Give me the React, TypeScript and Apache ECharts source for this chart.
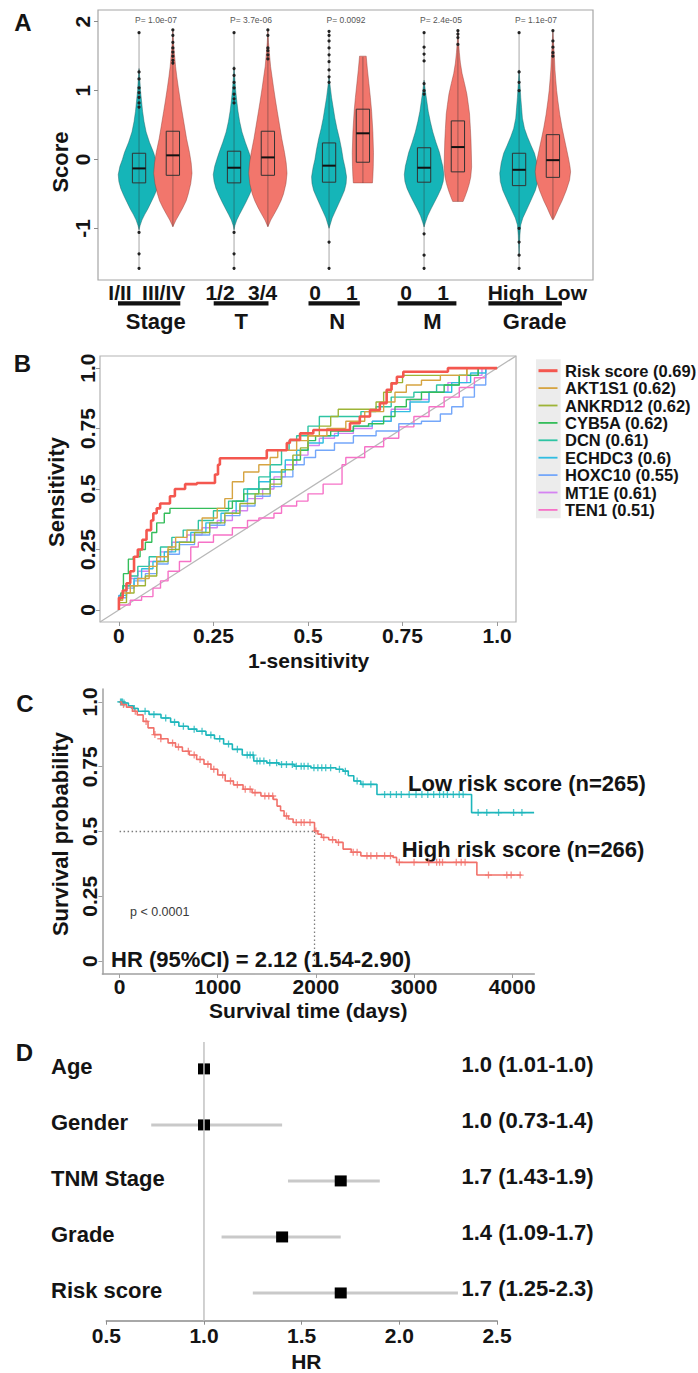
import React, { useEffect, useRef } from "react";
import * as echarts from "echarts";

const FONT = '"Liberation Sans", Arial, Helvetica, sans-serif';
const INK = "#141414";
const TEAL = "#15B5B8";
const RED = "#F2766C";

// ---------------- Panel A : violins ----------------
const GROUP_NAMES = ["Stage", "T", "N", "M", "Grade"];
const SUB_LABELS = ["I/II", "III/IV", "1/2", "3/4", "0", "1", "0", "1", "High", "Low"];
const P_VALUES = ["P= 1.0e-07", "P= 3.7e-06", "P= 0.0092", "P= 2.4e-05", "P= 1.1e-07"];
const VIOLIN_GROUP = [1, 1, 2, 2, 3, 3, 4, 4, 5, 5];
const VIOLIN_SIDE = [-1, 1, -1, 1, -1, 1, -1, 1, -1, 1];
// [score, relative density]
const VIOLIN_PROFILES: number[][][] = [
  [[1.32, 0], [1.2, 0.03], [1.0, 0.07], [0.85, 0.12], [0.7, 0.17], [0.55, 0.24], [0.4, 0.34], [0.25, 0.5], [0.1, 0.7], [0.0, 0.8], [-0.1, 0.92], [-0.22, 1.0], [-0.32, 0.97], [-0.42, 0.88], [-0.52, 0.74], [-0.62, 0.58], [-0.72, 0.42], [-0.8, 0.27], [-0.88, 0.14], [-0.96, 0.05], [-1.02, 0]],
  [[1.88, 0], [1.7, 0.03], [1.55, 0.07], [1.35, 0.13], [1.2, 0.19], [1.05, 0.26], [0.85, 0.36], [0.7, 0.44], [0.5, 0.55], [0.3, 0.66], [0.1, 0.8], [-0.05, 0.88], [-0.2, 0.92], [-0.35, 0.86], [-0.5, 0.74], [-0.6, 0.64], [-0.7, 0.48], [-0.8, 0.3], [-0.88, 0.15], [-0.95, 0.04], [-0.98, 0]],
  [[1.35, 0], [1.2, 0.03], [1.0, 0.08], [0.85, 0.13], [0.7, 0.19], [0.55, 0.27], [0.4, 0.38], [0.25, 0.54], [0.1, 0.72], [0.0, 0.83], [-0.1, 0.93], [-0.22, 1.0], [-0.32, 0.96], [-0.42, 0.87], [-0.52, 0.73], [-0.62, 0.57], [-0.72, 0.4], [-0.8, 0.26], [-0.88, 0.13], [-0.96, 0.04], [-1.02, 0]],
  [[1.88, 0], [1.7, 0.03], [1.55, 0.07], [1.35, 0.13], [1.2, 0.2], [1.05, 0.27], [0.85, 0.37], [0.7, 0.45], [0.5, 0.56], [0.3, 0.67], [0.1, 0.8], [-0.05, 0.88], [-0.2, 0.92], [-0.35, 0.87], [-0.5, 0.75], [-0.6, 0.63], [-0.7, 0.47], [-0.8, 0.29], [-0.88, 0.14], [-0.95, 0.04], [-0.98, 0]],
  [[1.2, 0], [1.05, 0.06], [0.9, 0.12], [0.75, 0.2], [0.6, 0.28], [0.45, 0.38], [0.3, 0.5], [0.15, 0.6], [0.0, 0.68], [-0.12, 0.77], [-0.25, 0.84], [-0.35, 0.82], [-0.45, 0.74], [-0.55, 0.6], [-0.65, 0.45], [-0.75, 0.3], [-0.85, 0.15], [-0.95, 0.05], [-1.0, 0]],
  [[1.5, 0.16], [1.3, 0.22], [1.1, 0.29], [0.9, 0.36], [0.7, 0.42], [0.4, 0.48], [0.1, 0.51], [-0.1, 0.5], [-0.25, 0.48], [-0.34, 0.46]],
  [[1.15, 0], [1.0, 0.06], [0.85, 0.13], [0.7, 0.2], [0.55, 0.3], [0.4, 0.42], [0.25, 0.57], [0.1, 0.74], [0.0, 0.82], [-0.1, 0.9], [-0.22, 0.95], [-0.32, 0.92], [-0.42, 0.82], [-0.52, 0.67], [-0.62, 0.5], [-0.72, 0.33], [-0.82, 0.17], [-0.92, 0.06], [-0.98, 0]],
  [[1.87, 0], [1.7, 0.03], [1.55, 0.07], [1.4, 0.12], [1.25, 0.2], [1.1, 0.32], [0.95, 0.43], [0.8, 0.5], [0.66, 0.56], [0.45, 0.6], [0.27, 0.63], [0.05, 0.65], [-0.11, 0.66], [-0.25, 0.62], [-0.35, 0.55], [-0.45, 0.45], [-0.55, 0.33], [-0.61, 0.25]],
  [[1.3, 0], [1.1, 0.04], [0.9, 0.08], [0.75, 0.12], [0.6, 0.16], [0.45, 0.26], [0.33, 0.4], [0.2, 0.58], [0.09, 0.74], [-0.05, 0.86], [-0.2, 0.93], [-0.32, 0.9], [-0.45, 0.78], [-0.6, 0.56], [-0.72, 0.38], [-0.85, 0.18], [-0.95, 0.08], [-1.1, 0.04], [-1.25, 0.02], [-1.4, 0]],
  [[1.87, 0], [1.7, 0.03], [1.5, 0.07], [1.3, 0.1], [1.18, 0.13], [1.0, 0.18], [0.85, 0.24], [0.65, 0.33], [0.46, 0.44], [0.3, 0.55], [0.13, 0.67], [0.0, 0.76], [-0.1, 0.82], [-0.18, 0.85], [-0.3, 0.8], [-0.45, 0.64], [-0.6, 0.44], [-0.7, 0.28], [-0.79, 0.15], [-0.86, 0.04], [-0.88, 0]],
];
// [line low, Q1, median, Q3, line high]
const BOX_STATS = [
  [-1.58, -0.34, -0.13, 0.09, 1.84],
  [-0.97, -0.23, 0.06, 0.41, 1.88],
  [-1.58, -0.34, -0.12, 0.12, 1.84],
  [-0.97, -0.23, 0.03, 0.41, 1.88],
  [-1.58, -0.33, -0.09, 0.24, 1.86],
  [-0.34, -0.04, 0.38, 0.73, 1.49],
  [-1.58, -0.33, -0.12, 0.17, 1.84],
  [-0.61, -0.18, 0.18, 0.56, 1.87],
  [-1.58, -0.38, -0.15, 0.09, 1.84],
  [-0.86, -0.26, -0.01, 0.36, 1.87],
];
const OUTLIERS = [
  [1.84, 1.27, 1.17, 1.04, 0.97, 0.9, 0.82, 0.76, -1.06, -1.37, -1.58],
  [1.88, 1.8, 1.7, 1.62, 1.56, 1.5, 1.44, 1.4],
  [1.84, 1.32, 1.22, 1.12, 1.04, 0.95, 0.88, 0.82, -1.06, -1.37, -1.58],
  [1.88, 1.8, 1.62, 1.58, 1.52, 1.46],
  [1.86, 1.8, 1.72, 1.62, 1.52, 1.42, 1.3, 1.2, 1.12, -1.2, -1.58],
  [],
  [1.84, 1.63, 1.53, 1.43, 1.1, 1.0, 0.95, -1.08, -1.39, -1.58],
  [1.87, 1.82, 1.77, 1.67],
  [1.84, 1.27, 1.12, 1.0, -1.0, -1.2, -1.39, -1.58],
  [1.87, 1.72, 1.63, 1.55, 1.5],
];

// ---------------- Panel B : ROC ----------------
const ROC_NAMES = ["Risk score", "AKT1S1", "ANKRD12", "CYB5A", "DCN", "ECHDC3", "HOXC10", "MT1E", "TEN1"];
const ROC_AUC = ["0.69", "0.62", "0.62", "0.62", "0.61", "0.6", "0.55", "0.61", "0.51"];
const ROC_COLORS = ["#F4574F", "#D6A441", "#9DB436", "#34BD5A", "#2EC4A3", "#30BDE2", "#74A7FA", "#D583F2", "#F672C7"];
const ROC_RISK = [[0, 0], [0.01, 0.05], [0.02, 0.08], [0.03, 0.11], [0.04, 0.16], [0.05, 0.22], [0.062, 0.25], [0.073, 0.29], [0.085, 0.33], [0.091, 0.37], [0.1, 0.4], [0.109, 0.42], [0.135, 0.44], [0.148, 0.47], [0.175, 0.5], [0.206, 0.52], [0.254, 0.525], [0.262, 0.56], [0.267, 0.6], [0.32, 0.627], [0.391, 0.627], [0.395, 0.66], [0.444, 0.66], [0.452, 0.69], [0.479, 0.703], [0.514, 0.73], [0.523, 0.744], [0.611, 0.744], [0.637, 0.772], [0.664, 0.8], [0.69, 0.827], [0.708, 0.855], [0.721, 0.91], [0.735, 0.937], [0.752, 0.964], [0.77, 0.985], [0.87, 0.985], [0.875, 1], [1, 1]];
const ROC_AKT1S1 = [[0, 0], [0.01, 0.04], [0.03, 0.07], [0.05, 0.1], [0.08, 0.13], [0.1, 0.18], [0.13, 0.22], [0.15, 0.26], [0.18, 0.3], [0.22, 0.33], [0.26, 0.38], [0.28, 0.42], [0.3, 0.46], [0.33, 0.53], [0.37, 0.57], [0.4, 0.6], [0.42, 0.63], [0.47, 0.66], [0.5, 0.7], [0.55, 0.72], [0.6, 0.75], [0.65, 0.78], [0.7, 0.82], [0.73, 0.86], [0.76, 0.9], [0.8, 0.93], [0.85, 0.95], [0.92, 0.97], [0.96, 1], [1, 1]];
const ROC_ANKRD12 = [[0, 0], [0.02, 0.03], [0.04, 0.07], [0.07, 0.1], [0.1, 0.14], [0.13, 0.2], [0.16, 0.25], [0.2, 0.28], [0.24, 0.32], [0.28, 0.36], [0.32, 0.4], [0.36, 0.44], [0.4, 0.48], [0.43, 0.52], [0.46, 0.58], [0.48, 0.64], [0.5, 0.67], [0.53, 0.72], [0.56, 0.76], [0.58, 0.8], [0.6, 0.83], [0.68, 0.83], [0.7, 0.86], [0.72, 0.9], [0.75, 0.94], [0.77, 0.97], [0.92, 0.97], [0.93, 1], [1, 1]];
const ROC_CYB5A = [[0, 0], [0.005, 0.04], [0.012, 0.07], [0.025, 0.15], [0.038, 0.21], [0.056, 0.22], [0.07, 0.25], [0.087, 0.28], [0.1, 0.32], [0.12, 0.36], [0.135, 0.4], [0.155, 0.42], [0.3, 0.42], [0.33, 0.45], [0.37, 0.48], [0.4, 0.5], [0.43, 0.54], [0.46, 0.58], [0.48, 0.62], [0.5, 0.66], [0.52, 0.7], [0.56, 0.72], [0.62, 0.74], [0.66, 0.76], [0.7, 0.77], [0.73, 0.8], [0.76, 0.84], [0.8, 0.87], [0.86, 0.9], [0.9, 0.93], [0.95, 0.97], [1, 1]];
const ROC_DCN = [[0, 0], [0.01, 0.05], [0.03, 0.1], [0.05, 0.14], [0.08, 0.18], [0.11, 0.22], [0.14, 0.26], [0.17, 0.3], [0.21, 0.33], [0.25, 0.37], [0.29, 0.41], [0.33, 0.45], [0.37, 0.5], [0.4, 0.55], [0.43, 0.6], [0.45, 0.66], [0.47, 0.7], [0.5, 0.72], [0.53, 0.76], [0.56, 0.8], [0.64, 0.8], [0.68, 0.82], [0.72, 0.84], [0.78, 0.88], [0.84, 0.9], [0.9, 0.93], [0.95, 0.97], [1, 1]];
const ROC_ECHDC3 = [[0, 0], [0.02, 0.06], [0.04, 0.1], [0.06, 0.13], [0.09, 0.17], [0.12, 0.2], [0.15, 0.24], [0.19, 0.28], [0.23, 0.32], [0.27, 0.36], [0.31, 0.4], [0.34, 0.45], [0.37, 0.5], [0.4, 0.53], [0.44, 0.57], [0.47, 0.62], [0.5, 0.66], [0.54, 0.69], [0.58, 0.72], [0.62, 0.74], [0.67, 0.76], [0.72, 0.78], [0.77, 0.82], [0.82, 0.86], [0.88, 0.9], [0.93, 0.94], [0.97, 0.98], [1, 1]];
const ROC_HOXC10 = [[0, 0], [0.02, 0.05], [0.04, 0.09], [0.07, 0.12], [0.1, 0.15], [0.13, 0.19], [0.16, 0.23], [0.2, 0.27], [0.24, 0.31], [0.28, 0.35], [0.32, 0.39], [0.36, 0.43], [0.4, 0.47], [0.43, 0.51], [0.46, 0.55], [0.49, 0.6], [0.52, 0.63], [0.57, 0.66], [0.62, 0.69], [0.68, 0.72], [0.74, 0.74], [0.8, 0.77], [0.85, 0.78], [0.88, 0.81], [0.91, 0.84], [0.94, 0.88], [0.97, 0.93], [1, 1]];
const ROC_MT1E = [[0, 0], [0.01, 0.06], [0.03, 0.1], [0.05, 0.13], [0.08, 0.16], [0.11, 0.2], [0.14, 0.24], [0.18, 0.28], [0.22, 0.31], [0.26, 0.34], [0.3, 0.37], [0.34, 0.41], [0.38, 0.46], [0.41, 0.5], [0.44, 0.55], [0.47, 0.6], [0.5, 0.64], [0.53, 0.68], [0.57, 0.71], [0.62, 0.73], [0.67, 0.75], [0.72, 0.78], [0.77, 0.83], [0.82, 0.87], [0.87, 0.9], [0.92, 0.94], [0.96, 0.97], [1, 1]];
const ROC_TEN1 = [[0, 0], [0.03, 0.02], [0.06, 0.04], [0.09, 0.055], [0.11, 0.09], [0.13, 0.12], [0.16, 0.16], [0.19, 0.2], [0.21, 0.26], [0.25, 0.28], [0.3, 0.31], [0.34, 0.34], [0.37, 0.37], [0.41, 0.38], [0.43, 0.4], [0.47, 0.43], [0.5, 0.45], [0.54, 0.48], [0.59, 0.52], [0.6, 0.6], [0.65, 0.63], [0.7, 0.675], [0.74, 0.71], [0.78, 0.757], [0.82, 0.8], [0.86, 0.84], [0.9, 0.88], [0.94, 0.92], [0.97, 0.96], [1, 1]];
const ROC_CURVES = [ROC_RISK, ROC_AKT1S1, ROC_ANKRD12, ROC_CYB5A, ROC_DCN, ROC_ECHDC3, ROC_HOXC10, ROC_MT1E, ROC_TEN1];
const ROC_TICKS = [0, 0.25, 0.5, 0.75, 1];

// ---------------- Panel C : Kaplan-Meier ----------------
const KM_LOW = [[0, 1], [40, 0.996], [90, 0.985], [140, 0.975], [190, 0.964], [300, 0.952], [422, 0.938], [520, 0.922], [604, 0.906], [700, 0.895], [785, 0.887], [880, 0.872], [967, 0.858], [1060, 0.838], [1149, 0.817], [1250, 0.795], [1367, 0.772], [1500, 0.765], [1622, 0.759], [1780, 0.752], [1949, 0.746], [2204, 0.74], [2277, 0.733], [2330, 0.715], [2386, 0.695], [2458, 0.682], [2622, 0.643], [3586, 0.573], [4223, 0.573]];
const KM_HIGH = [[0, 1], [21, 0.99], [70, 0.98], [131, 0.964], [180, 0.95], [240, 0.925], [290, 0.9], [349, 0.874], [420, 0.858], [494, 0.842], [570, 0.826], [640, 0.81], [710, 0.795], [785, 0.778], [860, 0.76], [931, 0.74], [1000, 0.718], [1076, 0.695], [1160, 0.68], [1258, 0.663], [1350, 0.65], [1440, 0.637], [1567, 0.624], [1604, 0.598], [1640, 0.58], [1676, 0.56], [1720, 0.548], [1768, 0.535], [1986, 0.502], [2020, 0.49], [2058, 0.477], [2130, 0.468], [2204, 0.458], [2277, 0.432], [2360, 0.42], [2458, 0.406], [2786, 0.4], [2822, 0.381], [3640, 0.332], [4095, 0.332]];
const CENSOR_LOW = [10, 20, 30, 45, 150, 260, 350, 470, 560, 650, 760, 840, 930, 1020, 1110, 1200, 1300, 1330, 1360, 1400, 1430, 1470, 1530, 1600, 1650, 1700, 1760, 1800, 1850, 1880, 1920, 1980, 2020, 2060, 2100, 2150, 2240, 2300, 2420, 2480, 2560, 2700, 2760, 2820, 2870, 2950, 3020, 3080, 3140, 3200, 3260, 3300, 3340, 3400, 3460, 3500, 3653, 3741, 3861, 4014, 4099];
const CENSOR_HIGH = [40, 160, 270, 360, 420, 540, 600, 700, 760, 820, 900, 960, 1050, 1130, 1200, 1280, 1330, 1380, 1480, 1520, 1560, 1700, 1800, 1850, 1880, 1940, 2000, 2080, 2170, 2230, 2380, 2420, 2520, 2560, 2620, 2700, 2760, 2850, 3000, 3150, 3230, 3260, 3290, 3430, 3480, 3520, 3758, 3945, 3989, 4081];
const MEDIAN_HIGH = 1986;
const KM_X_TICKS = [0, 1000, 2000, 3000, 4000];
const KM_Y_TICKS = [0, 0.25, 0.5, 0.75, 1];

// ---------------- Panel D : forest ----------------
const FOREST_LABELS = ["Age", "Gender", "TNM Stage", "Grade", "Risk score"];
const FOREST_HR = [1.0, 1.0, 1.7, 1.4, 1.7];
const FOREST_LOW = [1.0, 0.73, 1.43, 1.09, 1.25];
const FOREST_HIGH = [1.01, 1.4, 1.9, 1.7, 2.3];
const FOREST_TEXT = ["1.0 (1.01-1.0)", "1.0 (0.73-1.4)", "1.7 (1.43-1.9)", "1.4 (1.09-1.7)", "1.7 (1.25-2.3)"];

// ---------------- layout constants ----------------
const SIDE_OFFSET = 0.178;
const VIOLIN_HALF = 0.219;
const BOX_HALF = 0.07;
const SUB_LABEL_X = [120, 163.7, 220, 262.7, 315, 351.8, 406, 443, 511, 566];
const GROUP_BAR_X = [[118, 180.3], [213.7, 268.5], [308.5, 359.8], [397.6, 456.4], [488.4, 561.9]];
const GROUP_LABEL_X = [155.8, 241.2, 337.3, 432.5, 534.6];

const survAt = (curve: number[][], t: number) => {
  let s = 1;
  for (const [d, v] of curve) {
    if (d <= t) s = v;
    else break;
  }
  return s;
};

const fmt01 = (v: number) => (v === 0 ? "0" : v === 1 ? "1.0" : String(v));

function buildOption(): any {
  const tickLabel = { fontFamily: FONT, fontWeight: "bold", fontSize: 21, color: INK };
  const graphics: any[] = [];
  const addText = (text: string, x: number, y: number, size: number, o: any = {}) =>
    graphics.push({
      type: "text",
      x,
      y,
      rotation: o.rotation || 0,
      silent: true,
      style: {
        text,
        font: `${o.weight || "bold"} ${size}px ${FONT}`,
        fill: o.fill || INK,
        align: o.align || "center",
        verticalAlign: "middle",
      },
    });

  // panel letters
  addText("A", 23, 22, 24);
  addText("B", 22.5, 363, 24);
  addText("C", 25, 703, 24);
  addText("D", 24.5, 1052, 24);
  // axis titles
  addText("Score", 60, 162, 22, { rotation: Math.PI / 2 });
  addText("Sensitivity", 56, 492, 22, { rotation: Math.PI / 2 });
  addText("1-sensitivity", 308.6, 660, 21);
  addText("Survival probability", 60, 834, 22, { rotation: Math.PI / 2 });
  addText("Survival time (days)", 308.3, 1010.5, 21);
  addText("HR", 306.3, 1361, 21);
  // panel A category labels
  SUB_LABELS.forEach((s, i) => addText(s, SUB_LABEL_X[i], 292, 21));
  GROUP_NAMES.forEach((g, i) => {
    const [a, b] = GROUP_BAR_X[i];
    graphics.push({ type: "rect", silent: true, shape: { x: a, y: 301.2, width: b - a, height: 4.4 }, style: { fill: "#111" } });
    addText(g, GROUP_LABEL_X[i], 321.7, 22);
  });
  // panel B legend
  graphics.push({ type: "rect", silent: true, shape: { x: 536, y: 359.3, width: 24.7, height: 159 }, style: { fill: "#ececec" } });
  ROC_NAMES.forEach((n, i) => {
    const y = 370.7 + i * 17.4;
    graphics.push({
      type: "line",
      silent: true,
      shape: { x1: 538.5, y1: y, x2: 557.5, y2: y },
      style: { stroke: ROC_COLORS[i], lineWidth: i === 0 ? 3 : 1.8 },
    });
    addText(`${n} (${ROC_AUC[i]})`, 565, y, 16.5, { align: "left" });
  });
  // panel C annotations
  addText("p < 0.0001", 130, 911.7, 12.5, { align: "left", weight: "normal", fill: "#3a3a3a" });
  addText("HR (95%CI) = 2.12 (1.54-2.90)", 111, 959, 22, { align: "left" });
  addText("Low risk score (n=265)", 408, 783.3, 22, { align: "left" });
  addText("High risk score (n=266)", 401.7, 849.3, 22, { align: "left" });

  const noAxis = {
    axisLine: { show: false, onZero: false },
    axisTick: { show: false },
    axisLabel: { show: false },
    splitLine: { show: false },
  };

  const series: any[] = [];

  // ---- A: violins ----
  series.push({
    type: "custom",
    xAxisIndex: 0,
    yAxisIndex: 0,
    clip: false,
    encode: { x: 0, y: 1 },
    data: VIOLIN_GROUP.map((g, i) => [g + VIOLIN_SIDE[i] * SIDE_OFFSET, 0, i]),
    renderItem: (params: any, api: any) => {
      const xc = api.value(0);
      const i = api.value(2);
      const prof = VIOLIN_PROFILES[i];
      const isTeal = VIOLIN_SIDE[i] < 0;
      const right = prof.map(([s, d]) => api.coord([xc + d * VIOLIN_HALF, s]));
      const left = prof
        .slice()
        .reverse()
        .map(([s, d]) => api.coord([xc - d * VIOLIN_HALF, s]));
      const [lo, q1, med, q3, hi] = BOX_STATS[i];
      const top = api.coord([xc, hi]);
      const bot = api.coord([xc, lo]);
      const b1 = api.coord([xc - BOX_HALF, q3]);
      const b2 = api.coord([xc + BOX_HALF, q1]);
      const m1 = api.coord([xc - BOX_HALF, med]);
      const m2 = api.coord([xc + BOX_HALF, med]);
      const children: any[] = [
        {
          type: "polygon",
          shape: { points: right.concat(left) },
          style: { fill: isTeal ? TEAL : RED, stroke: isTeal ? "rgba(30,90,92,0.55)" : "rgba(140,60,52,0.55)", lineWidth: 0.8 },
        },
        { type: "line", shape: { x1: top[0], y1: top[1], x2: bot[0], y2: bot[1] }, style: { stroke: "rgba(50,50,50,0.33)", lineWidth: 1.3 } },
        { type: "rect", shape: { x: b1[0], y: b1[1], width: b2[0] - b1[0], height: b2[1] - b1[1] }, style: { fill: "none", stroke: "#333", lineWidth: 1 } },
        { type: "line", shape: { x1: m1[0], y1: m1[1], x2: m2[0], y2: m2[1] }, style: { stroke: "#111", lineWidth: 2 } },
      ];
      OUTLIERS[i].forEach((o) => {
        const p = api.coord([xc, o]);
        children.push({ type: "circle", shape: { cx: p[0], cy: p[1], r: 1.6 }, style: { fill: "#222" } });
      });
      return { type: "group", children };
    },
  });
  // ---- A: p-values ----
  series.push({
    type: "custom",
    xAxisIndex: 0,
    yAxisIndex: 0,
    clip: false,
    encode: { x: 0, y: 1 },
    data: P_VALUES.map((p, i) => [i + 1, 2.03, i]),
    renderItem: (params: any, api: any) => {
      const c = api.coord([api.value(0), api.value(1)]);
      return {
        type: "text",
        x: c[0],
        y: c[1],
        style: { text: P_VALUES[api.value(2)], font: `normal 8.5px ${FONT}`, fill: "#555", align: "center", verticalAlign: "middle" },
      };
    },
  });

  // ---- B: ROC ----
  series.push({
    type: "line",
    xAxisIndex: 1,
    yAxisIndex: 1,
    data: [[-0.05, -0.05], [1.05, 1.05]],
    showSymbol: false,
    silent: true,
    lineStyle: { color: "#b8b8b8", width: 1.3 },
  });
  for (let k = ROC_CURVES.length - 1; k >= 0; k--) {
    series.push({
      type: "line",
      name: ROC_NAMES[k],
      xAxisIndex: 1,
      yAxisIndex: 1,
      data: ROC_CURVES[k],
      step: "start",
      showSymbol: false,
      silent: true,
      lineStyle: { color: ROC_COLORS[k], width: k === 0 ? 2.6 : 1.4 },
    });
  }

  // ---- C: KM ----
  const dotted = { color: "#7d7d7d", width: 1.3, type: [1.5, 2.5] };
  series.push({ type: "line", xAxisIndex: 2, yAxisIndex: 2, data: [[0, 0.5], [MEDIAN_HIGH, 0.5]], showSymbol: false, silent: true, lineStyle: dotted });
  series.push({ type: "line", xAxisIndex: 2, yAxisIndex: 2, data: [[MEDIAN_HIGH, 0.5], [MEDIAN_HIGH, 0]], showSymbol: false, silent: true, lineStyle: dotted });
  const kmGroups = [
    { curve: KM_LOW, censor: CENSOR_LOW, color: "#1DB6BC" },
    { curve: KM_HIGH, censor: CENSOR_HIGH, color: "#F1716A" },
  ];
  kmGroups.forEach((g) => {
    series.push({
      type: "line",
      xAxisIndex: 2,
      yAxisIndex: 2,
      data: g.curve,
      step: "end",
      showSymbol: false,
      silent: true,
      lineStyle: { color: g.color, width: 1.6 },
    });
    series.push({
      type: "scatter",
      xAxisIndex: 2,
      yAxisIndex: 2,
      silent: true,
      data: g.censor.map((d) => [d, survAt(g.curve, d)]),
      symbol: "path://M0,5L10,5M5,0L5,10",
      symbolSize: 7,
      itemStyle: { color: "transparent", borderColor: g.color, borderWidth: 1.3 },
    });
  });

  // ---- D: forest ----
  series.push({
    type: "line",
    xAxisIndex: 3,
    yAxisIndex: 3,
    data: [[1, -0.48], [1, 4.495]],
    showSymbol: false,
    silent: true,
    lineStyle: { color: "#c2c2c2", width: 1.5 },
  });
  series.push({
    type: "custom",
    xAxisIndex: 3,
    yAxisIndex: 3,
    clip: false,
    encode: { x: 0, y: 1 },
    data: FOREST_HR.map((h, i) => [h, i, i]),
    renderItem: (params: any, api: any) => {
      const i = api.value(2);
      const row = api.value(1);
      const lo = api.coord([FOREST_LOW[i], row]);
      const hi = api.coord([FOREST_HIGH[i], row]);
      const c = api.coord([api.value(0), row]);
      return {
        type: "group",
        children: [
          { type: "line", shape: { x1: lo[0], y1: lo[1], x2: hi[0], y2: hi[1] }, style: { stroke: "#c9c9c9", lineWidth: 3 } },
          { type: "rect", shape: { x: c[0] - 6, y: c[1] - 5.5, width: 12, height: 11 }, style: { fill: "#000" } },
          {
            type: "text",
            x: 51,
            y: c[1] - 2,
            style: { text: FOREST_LABELS[i], font: `bold 22px ${FONT}`, fill: INK, align: "left", verticalAlign: "middle" },
          },
          {
            type: "text",
            x: 461.5,
            y: c[1] - 4,
            style: { text: FOREST_TEXT[i], font: `bold 22px ${FONT}`, fill: INK, align: "left", verticalAlign: "middle" },
          },
        ],
      };
    },
  });

  return {
    animation: false,
    backgroundColor: "#ffffff",
    grid: [
      { left: 98, top: 10, width: 495, height: 270, show: true, borderColor: "#a6a6a6", borderWidth: 1.2, backgroundColor: "transparent", containLabel: false, outerBoundsMode: "none" },
      { left: 100, top: 356, width: 416, height: 266, show: true, borderColor: "#b3b3b3", borderWidth: 1.2, backgroundColor: "transparent", containLabel: false, outerBoundsMode: "none" },
      { left: 102.4, top: 689, width: 431.9, height: 285, containLabel: false, outerBoundsMode: "none" },
      { left: 106.3, top: 1042, width: 390.7, height: 278.7, containLabel: false, outerBoundsMode: "none" },
    ],
    xAxis: [
      { gridIndex: 0, type: "value", min: 0.39, max: 5.6, ...noAxis },
      {
        gridIndex: 1,
        type: "value",
        min: -0.05,
        max: 1.05,
        axisLine: { show: false, onZero: false },
        axisTick: { show: true, length: 4, lineStyle: { color: "#999" }, customValues: ROC_TICKS },
        axisLabel: { ...tickLabel, margin: 3, customValues: ROC_TICKS, formatter: fmt01 },
        splitLine: { show: false },
      },
      {
        gridIndex: 2,
        type: "value",
        min: -175,
        max: 4225,
        axisLine: { show: true, onZero: false, lineStyle: { color: "#a0a0a0", width: 1.5 } },
        axisTick: { show: true, length: 4, lineStyle: { color: "#a0a0a0" }, customValues: KM_X_TICKS },
        axisLabel: { ...tickLabel, margin: 2, customValues: KM_X_TICKS, formatter: (v: number) => String(v) },
        splitLine: { show: false },
      },
      {
        gridIndex: 3,
        type: "value",
        min: 0.5,
        max: 2.5,
        interval: 0.5,
        axisLine: { show: true, onZero: false, lineStyle: { color: "#8c8c8c", width: 1.5 } },
        axisTick: { show: true, length: 4, lineStyle: { color: "#8c8c8c" } },
        axisLabel: { ...tickLabel, margin: 4, formatter: (v: number) => v.toFixed(1) },
        splitLine: { show: false },
      },
    ],
    yAxis: [
      {
        gridIndex: 0,
        type: "value",
        min: -1.75,
        max: 2.17,
        axisLine: { show: false, onZero: false },
        axisTick: { show: true, length: 4, lineStyle: { color: "#8a8a8a" }, customValues: [-1, 0, 1, 2] },
        axisLabel: { ...tickLabel, rotate: 90, margin: 5, customValues: [-1, 0, 1, 2], formatter: (v: number) => String(v) },
        splitLine: { show: false },
      },
      {
        gridIndex: 1,
        type: "value",
        min: -0.05,
        max: 1.05,
        axisLine: { show: false, onZero: false },
        axisTick: { show: true, length: 4, lineStyle: { color: "#999" }, customValues: ROC_TICKS },
        axisLabel: { ...tickLabel, rotate: 90, margin: 2, customValues: ROC_TICKS, formatter: fmt01 },
        splitLine: { show: false },
      },
      {
        gridIndex: 2,
        type: "value",
        min: -0.05,
        max: 1.05,
        axisLine: { show: true, onZero: false, lineStyle: { color: "#a0a0a0", width: 1.5 } },
        axisTick: { show: true, length: 4, lineStyle: { color: "#a0a0a0" }, customValues: KM_Y_TICKS },
        axisLabel: { ...tickLabel, rotate: 90, margin: 2, customValues: KM_Y_TICKS, formatter: fmt01 },
        splitLine: { show: false },
      },
      { gridIndex: 3, type: "value", inverse: true, min: -0.48, max: 4.495, ...noAxis },
    ],
    graphic: graphics,
    series,
  };
}

export default function App() {
  const ref = useRef<HTMLDivElement>(null);
  useEffect(() => {
    if (!ref.current) return;
    const chart = echarts.init(ref.current, null, { renderer: "svg" });
    chart.setOption(buildOption());
    return () => chart.dispose();
  }, []);
  return (
    <div
      ref={ref}
      style={{ position: "absolute", left: 0, top: 0, width: 698, height: 1373, background: "#ffffff" }}
    />
  );
}
